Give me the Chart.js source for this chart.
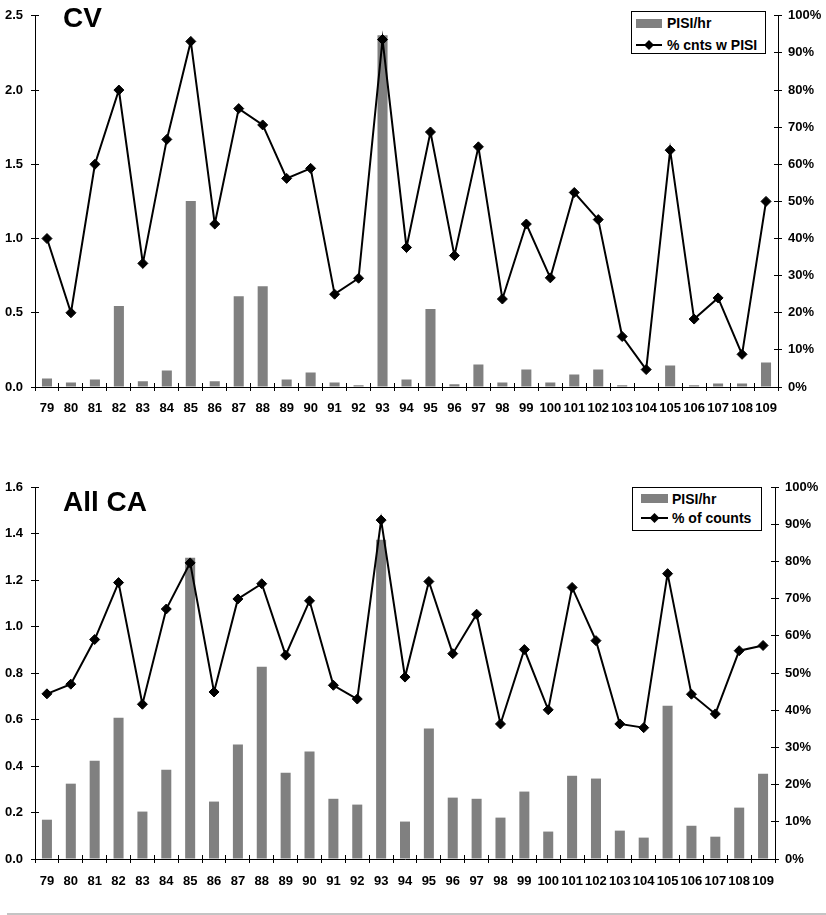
<!DOCTYPE html>
<html>
<head>
<meta charset="utf-8">
<script src="https://cdn.jsdelivr.net/npm/chart.js@4.4.1/dist/chart.umd.min.js"></script>
<style>
  body { margin: 0; background: #fff; width: 826px; height: 915px; position: relative; overflow: hidden;
         font-family: "Liberation Sans", Arial, sans-serif; }
  canvas { position: absolute; left: 0; }
  .title { position: absolute; left: 63px; font-weight: bold; font-size: 28px; line-height: 28px; color: #000; }
  .legend { position: absolute; border: 1px solid #000; background: #fff; }
  .legend span { position: absolute; font-weight: bold; font-size: 14px; line-height: 14px; white-space: nowrap; color: #000; }
  .legend .sw { position: absolute; background: #808080; }
  .legend svg { position: absolute; }
  .rule { position: absolute; left: 7px; top: 913px; width: 819px; height: 2px; background: #c4c4c4; }
</style>
</head>
<body>

<canvas id="chartCV" width="826" height="425" style="top:0px"></canvas>
<canvas id="chartCA" width="826" height="440" style="top:460px"></canvas>

<div class="title" style="top:4px">CV</div>
<div class="title" style="top:488px">All CA</div>

<div class="legend" id="legendCV" style="left:631px; top:11px; width:133px; height:41px;"></div>
<div class="legend" id="legendCA" style="left:632px; top:487px; width:128px; height:42px;"></div>

<div class="rule"></div>

<script>
// data
const years = ['79','80','81','82','83','84','85','86','87','88','89','90','91','92','93','94',
               '95','96','97','98','99','100','101','102','103','104','105','106','107','108','109'];

const cvRate = [0.058, 0.031, 0.051, 0.545, 0.038, 0.111, 1.253, 0.038, 0.612, 0.679, 0.051, 0.098, 0.031, 0.011, 2.369, 0.051,
                0.525, 0.018, 0.151, 0.031, 0.118, 0.031, 0.085, 0.118, 0.011, 0.003, 0.145, 0.011, 0.024, 0.024, 0.165];
const cvPct = [40, 20, 60, 80, 33.3, 66.7, 93.1, 43.9, 75, 70.6, 56.2, 58.9, 25, 29.3, 93.6, 37.6,
               68.7, 35.4, 64.7, 23.7, 43.9, 29.4, 52.4, 45.1, 13.6, 4.7, 63.8, 18.3, 24, 8.8, 50];

const caRate = [0.169, 0.324, 0.423, 0.608, 0.204, 0.384, 1.296, 0.247, 0.492, 0.827, 0.371, 0.462, 0.259, 0.234, 1.373, 0.161,
                0.561, 0.264, 0.259, 0.178, 0.290, 0.118, 0.358, 0.346, 0.122, 0.092, 0.659, 0.143, 0.096, 0.221, 0.367];
const caPct = [44.4, 47, 59, 74.3, 41.6, 67.2, 79.6, 44.9, 69.9, 74, 54.8, 69.4, 46.7, 43, 91.1, 48.9,
               74.6, 55.2, 65.8, 36.3, 56.3, 40.1, 73, 58.7, 36.3, 35.3, 76.7, 44.3, 39, 56, 57.4];

const barLabel = 'PISI/hr';
const cvLineLabel = '% cnts w PISI';
const caLineLabel = '% of counts';

const FONT = '"Liberation Sans", Arial, sans-serif';

// Excel style tick marks that cross the axis: Chart.js draws the outer half, this draws the inner half
const crossTicks = {
  id: 'crossTicks',
  afterDatasetsDraw(chart) {
    const ctx = chart.ctx;
    const x = chart.scales.x, y = chart.scales.y, y1 = chart.scales.y1;
    const al = p => Math.round(p - 0.5) + 0.5;
    ctx.save();
    ctx.strokeStyle = '#000';
    ctx.lineWidth = 1;
    ctx.beginPath();
    const step = x.getPixelForValue(1) - x.getPixelForValue(0);
    for (let i = 0; i <= years.length; i++) {
      const px = al(x.getPixelForValue(0) - step / 2 + i * step);
      ctx.moveTo(px, x.top);
      ctx.lineTo(px, x.top - 4);
    }
    y.ticks.forEach(t => {
      const py = al(y.getPixelForValue(t.value));
      ctx.moveTo(y.right, py);
      ctx.lineTo(y.right + 4, py);
    });
    y1.ticks.forEach(t => {
      const py = al(y1.getPixelForValue(t.value));
      ctx.moveTo(y1.left, py);
      ctx.lineTo(y1.left - 4, py);
    });
    ctx.stroke();
    ctx.restore();
  }
};

function axisBase() {
  return {
    border: { display: true, color: '#000', width: 1 },
    grid: { drawOnChartArea: false, color: '#000', tickLength: 4, lineWidth: 1 },
    ticks: { color: '#000', font: { family: FONT, size: 13, weight: 'bold' } }
  };
}

function makeChart(id, rate, pct, lineLabel, yMax, yStep, leftW, rightW, xH, padTop, xPad) {
  const xAxis = axisBase();
  xAxis.ticks.autoSkip = false;
  xAxis.ticks.maxRotation = 0;
  xAxis.ticks.padding = xPad;
  xAxis.afterFit = s => { s.height = xH; };

  const yAxis = axisBase();
  yAxis.position = 'left';
  yAxis.min = 0;
  yAxis.max = yMax;
  yAxis.ticks.stepSize = yStep;
  yAxis.ticks.padding = 8;
  yAxis.ticks.callback = v => Number(v).toFixed(1);
  yAxis.afterFit = s => { s.width = leftW; };

  const y1Axis = axisBase();
  y1Axis.position = 'right';
  y1Axis.min = 0;
  y1Axis.max = 100;
  y1Axis.ticks.stepSize = 10;
  y1Axis.ticks.padding = 6;
  y1Axis.ticks.callback = v => v + '%';
  y1Axis.afterFit = s => { s.width = rightW; };

  return new Chart(document.getElementById(id), {
    data: {
      labels: years,
      datasets: [
        {
          type: 'line',
          label: lineLabel,
          data: pct,
          yAxisID: 'y1',
          order: 1,
          borderColor: '#000',
          borderWidth: 2,
          tension: 0,
          pointStyle: 'rectRot',
          pointRadius: 5,
          pointBackgroundColor: '#000',
          pointBorderColor: '#000',
          pointBorderWidth: 1
        },
        {
          type: 'bar',
          label: barLabel,
          data: rate,
          yAxisID: 'y',
          order: 2,
          backgroundColor: '#808080',
          borderWidth: 0,
          barPercentage: 0.42,
          categoryPercentage: 1.0
        }
      ]
    },
    options: {
      responsive: false,
      animation: false,
      layout: { padding: { top: padTop, left: 0, right: 0, bottom: 0 } },
      plugins: { legend: { display: false }, tooltip: { enabled: false } },
      scales: { x: xAxis, y: yAxis, y1: y1Axis }
    },
    plugins: [crossTicks]
  });
}

// small html legend built from the dataset labels
function buildLegend(elId, chart, sw, textLeft, row1Top, row2Top, lineTop) {
  const el = document.getElementById(elId);
  const lineDs = chart.data.datasets[0];
  const barDs = chart.data.datasets[1];
  el.innerHTML =
    '<div class="sw" style="left:' + sw.left + 'px; top:' + sw.top + 'px; width:' + sw.w + 'px; height:9px"></div>' +
    '<span style="left:' + textLeft + 'px; top:' + row1Top + 'px">' + barDs.label + '</span>' +
    '<svg width="' + sw.w + '" height="12" style="left:' + sw.left + 'px; top:' + lineTop + 'px">' +
      '<line x1="0" y1="6" x2="' + sw.w + '" y2="6" stroke="#000" stroke-width="2"/>' +
      '<polygon points="' + (sw.w / 2) + ',1 ' + (sw.w / 2 + 5) + ',6 ' + (sw.w / 2) + ',11 ' + (sw.w / 2 - 5) + ',6" fill="#000"/>' +
    '</svg>' +
    '<span style="left:' + textLeft + 'px; top:' + row2Top + 'px">' + lineDs.label + '</span>';
}

const cvChart = makeChart('chartCV', cvRate, cvPct, cvLineLabel, 2.5, 0.5, 35, 48, 38, 12, 10);
const caChart = makeChart('chartCA', caRate, caPct, caLineLabel, 1.6, 0.2, 35, 51, 41, 27, 11);

buildLegend('legendCV', cvChart, { left: 4, top: 7, w: 26 }, 35, 4, 26, 27);
buildLegend('legendCA', caChart, { left: 8, top: 6, w: 27 }, 39, 4, 23, 24);
</script>
</body>
</html>
